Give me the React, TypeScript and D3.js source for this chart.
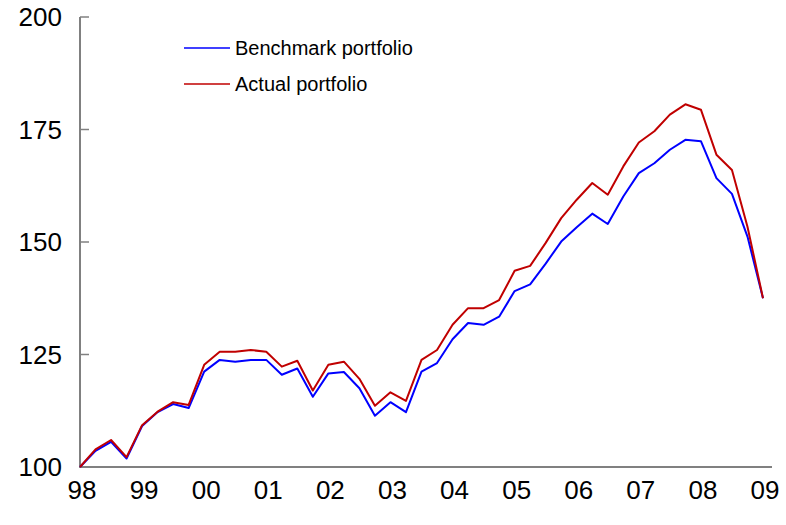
import React from "react";
import * as d3 from "d3";

const yearLabels = ["98", "99", "00", "01", "02", "03", "04", "05", "06", "07", "08", "09"];
const yTicks = [100, 125, 150, 175, 200];

const benchmark = [100, 103.6, 105.6, 101.9, 109.1, 112.2, 114.0, 113.1, 121.2, 123.8, 123.4, 123.8, 123.8, 120.5, 121.9, 115.6, 120.8, 121.1, 117.5, 111.4, 114.4, 112.2, 121.2, 123.1, 128.4, 132.0, 131.6, 133.4, 139.1, 140.6, 145.2, 150.1, 153.3, 156.3, 154.0, 160.1, 165.3, 167.5, 170.5, 172.7, 172.4, 164.2, 160.7, 151.2, 137.5];
const actual = [100, 103.9, 106.0, 102.2, 109.3, 112.3, 114.4, 113.8, 122.7, 125.6, 125.6, 126.0, 125.6, 122.3, 123.6, 117.0, 122.7, 123.4, 119.6, 113.6, 116.6, 114.7, 123.8, 126.0, 131.6, 135.3, 135.3, 137.1, 143.6, 144.7, 149.8, 155.3, 159.4, 163.1, 160.5, 166.8, 172.1, 174.6, 178.3, 180.6, 179.4, 169.4, 166.0, 153.4, 137.5];

const seriesNames = ["Benchmark portfolio", "Actual portfolio"];
const seriesColors = ["#0000FF", "#C00000"];

export default function App() {
  const W = 786, H = 525;
  const x = d3.scaleLinear().domain([0, 44]).range([80, 763]);
  const y = d3.scaleLinear().domain([100, 200]).range([467, 17]);
  const line = d3.line<number>().x((_, i) => x(i)).y((d) => y(d));
  const font = "Arial, 'Liberation Sans', sans-serif";
  const axisColor = "#808080";
  const series = [benchmark, actual];

  return (
    <svg width={W} height={H} style={{ position: "absolute", left: 0, top: 0, background: "#fff" }}>
      {/* y axis */}
      <line x1={80} x2={80} y1={y(200)} y2={y(100)} stroke={axisColor} strokeWidth={2} />
      {yTicks.map((t) => (
        <g key={t}>
          <line x1={80} x2={89} y1={y(t)} y2={y(t)} stroke={axisColor} strokeWidth={1.5} />
          <text x={62} y={y(t)} dy="0.36em" textAnchor="end" fontFamily={font} fontSize={26} fill="#000">
            {t}
          </text>
        </g>
      ))}
      {/* x axis */}
      <line x1={79} x2={772} y1={y(100)} y2={y(100)} stroke={axisColor} strokeWidth={2} />
      {yearLabels.map((l, k) => (
        <text key={l} x={x(k * 4) + 2} y={499} textAnchor="middle" fontFamily={font} fontSize={26} fill="#000">
          {l}
        </text>
      ))}
      {/* lines */}
      {series.map((s, i) => (
        <path key={i} d={line(s) || ""} fill="none" stroke={seriesColors[i]} strokeWidth={2} strokeLinejoin="round" />
      ))}
      {/* legend */}
      {seriesNames.map((n, i) => (
        <g key={n}>
          <line x1={184} x2={230} y1={48 + i * 36} y2={48 + i * 36} stroke={seriesColors[i]} strokeWidth={1.5} />
          <text x={235} y={48 + i * 36} dy="0.35em" fontFamily={font} fontSize={20} fill="#000">
            {n}
          </text>
        </g>
      ))}
    </svg>
  );
}
